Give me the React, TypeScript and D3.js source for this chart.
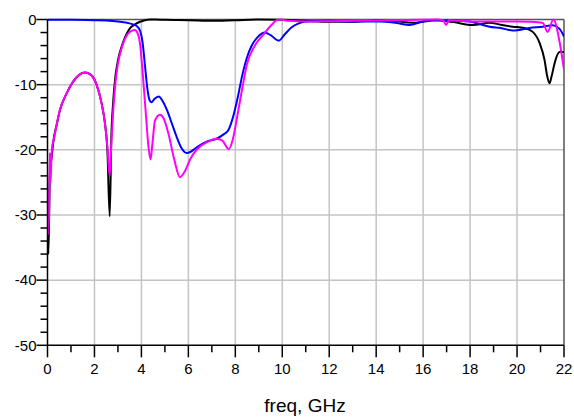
import React from "react";
import * as d3 from "d3";

const xTicks = [0, 2, 4, 6, 8, 10, 12, 14, 16, 18, 20, 22];
const yTicks = [0, -10, -20, -30, -40, -50];

const blackF = [0, 0.04, 0.1, 0.18, 0.25, 0.4, 0.53, 0.82, 1.1, 1.35, 1.6, 1.85, 2.09, 2.3, 2.45, 2.55, 2.65, 2.72, 2.8, 2.9, 3.0, 3.2, 3.37, 3.51, 3.7, 3.94, 4.15, 4.36, 4.6, 5, 6, 7, 8, 9, 10, 11, 12, 13, 14.15, 14.8, 15.57, 16.56, 17.3, 18.12, 18.83, 19.3, 19.82, 20.3, 20.67, 20.96, 21.17, 21.28, 21.38, 21.48, 21.6, 21.81, 22];
const blackV = [-30, -36, -24, -21, -18.7, -16, -13.9, -11.3, -9.5, -8.5, -8.15, -8.5, -10, -12.8, -16, -20, -30.2, -18, -12.5, -8.5, -6.3, -3.7, -2.2, -1.35, -0.8, -0.35, -0.1, 0, 0, -0.05, -0.1, -0.2, -0.1, 0, -0.05, -0.2, -0.35, -0.35, -0.1, -0.25, -0.5, -0.1, -0.4, -0.85, -0.5, -0.8, -1.1, -1.3, -1.9, -3.6, -6.2, -8.6, -9.8, -8.6, -6.7, -5.0, -5.0];

const magentaF = [0, 0.04, 0.08, 0.1, 0.13, 0.16, 0.2, 0.25, 0.4, 0.53, 0.82, 1.1, 1.35, 1.6, 1.85, 2.09, 2.3, 2.45, 2.55, 2.65, 2.72, 2.8, 2.9, 3.0, 3.2, 3.4, 3.6, 3.72, 3.85, 3.95, 4.05, 4.2, 4.3, 4.39, 4.47, 4.58, 4.79, 4.95, 5.15, 5.4, 5.64, 5.85, 6.1, 6.4, 6.8, 7.2, 7.45, 7.72, 7.9, 8.1, 8.3, 8.5, 8.8, 9.2, 9.5, 9.85, 10.3, 11, 12, 13, 14, 15, 15.8, 16.6, 16.85, 16.98, 17.1, 18, 19, 20, 20.5, 21.1, 21.3, 21.55, 21.8, 22];
const magentaV = [-26, -33, -27, -20.5, -25, -22, -19.5, -18.7, -16, -13.9, -11.3, -9.5, -8.5, -8.15, -8.5, -10, -12.8, -16, -19.5, -24, -19, -14, -9.5, -6.8, -3.9, -2.3, -1.7, -1.6, -2.2, -4, -8, -15, -19.5, -21.5, -19, -15.5, -14.6, -15.2, -17.5, -21.5, -24.2, -23.3, -21.3, -19.8, -18.8, -18.3, -18.6, -19.9, -18.3, -14.5, -10.5, -6.8, -4.2, -2.3, -1.0, 0, -0.2, -0.3, -0.25, -0.2, -0.15, -0.1, -0.05, 0, -0.1, -0.85, -0.1, -0.3, -0.3, -0.3, -0.35, -0.55, -1.9, 0, -3.2, -7.7];

const blueF = [0, 1, 2, 2.5, 3, 3.5, 3.8, 3.95, 4.05, 4.15, 4.25, 4.35, 4.43, 4.55, 4.74, 4.9, 5.1, 5.3, 5.5, 5.7, 5.92, 6.1, 6.4, 6.8, 7.2, 7.47, 7.7, 7.9, 8.1, 8.3, 8.5, 8.7, 8.95, 9.26, 9.5, 9.85, 10.1, 10.4, 10.7, 11, 12, 13, 14.15, 14.8, 15.43, 15.9, 16.28, 17.1, 17.98, 18.4, 18.83, 19.3, 19.82, 20.53, 21.1, 21.52, 21.8, 22];
const blueV = [-0.05, -0.05, -0.1, -0.15, -0.3, -0.6, -1.0, -1.8, -3.5, -7, -10.5, -12.4, -12.7, -12.2, -11.8, -12.5, -14, -16, -18, -19.7, -20.5, -20.3, -19.5, -18.7, -18.3, -17.7, -17, -15, -12, -8.5, -5.8, -4, -2.7, -2.0, -2.4, -3.25, -2.3, -1.2, -0.6, -0.3, -0.2, -0.3, -0.3, -0.5, -0.85, -0.4, -0.1, -0.15, -0.3, -0.7, -1.1, -1.3, -1.7, -1.3, -1.1, -0.9, -1.4, -2.6];

const series = [
  { name: "S-black", f: blackF, v: blackV, color: "#000000" },
  { name: "S-blue", f: blueF, v: blueV, color: "#0000ff" },
  { name: "S-magenta", f: magentaF, v: magentaV, color: "#ff00ff" },
];

export default function App() {
  const W = 574, H = 417;
  const x = d3.scaleLinear().domain([0, 22]).range([47.5, 564]);
  const y = d3.scaleLinear().domain([0, -50]).range([19.5, 345.3]);
  const line = d3
    .line<[number, number]>()
    .x((d) => x(d[0]))
    .y((d) => y(d[1]))
    .curve(d3.curveMonotoneX);
  const minorX = d3.range(1, 22, 2);
  const minorY = d3.range(0, -51, -2).filter((v) => v % 10 !== 0);
  const font = "'Liberation Sans', Arial, Helvetica, sans-serif";
  return (
    <svg
      width={W}
      height={H}
      style={{ position: "fixed", left: 0, top: 0, background: "#fff" }}
      fontFamily={font}
    >
      <defs>
        <clipPath id="plot">
          <rect x={x(0)} y={y(0) - 2} width={x(22) - x(0)} height={y(-50) - y(0) + 4} />
        </clipPath>
      </defs>
      {xTicks.slice(1, -1).map((t) => (
        <line key={"gx" + t} x1={x(t)} x2={x(t)} y1={y(0)} y2={y(-50)} stroke="#c4c4c4" strokeWidth={1.5} />
      ))}
      {yTicks.slice(1, -1).map((t) => (
        <line key={"gy" + t} x1={x(0)} x2={x(22)} y1={y(t)} y2={y(t)} stroke="#c4c4c4" strokeWidth={1.5} />
      ))}
      <line x1={x(0)} x2={x(22)} y1={y(0)} y2={y(0)} stroke="#555" strokeWidth={1.5} />
      <line x1={x(22)} x2={x(22)} y1={y(0)} y2={y(-50)} stroke="#555" strokeWidth={1.5} />
      <g clipPath="url(#plot)">
        {series.map((s) => (
          <path
            key={s.name}
            d={line(s.f.map((f, i) => [f, s.v[i]] as [number, number])) || ""}
            fill="none"
            stroke={s.color}
            strokeWidth={2}
            strokeLinejoin="round"
          />
        ))}
      </g>
      <line x1={x(0)} x2={x(0)} y1={y(0)} y2={y(-50)} stroke="#000" strokeWidth={1.5} />
      <line x1={x(0)} x2={x(22)} y1={y(-50)} y2={y(-50)} stroke="#000" strokeWidth={1.5} />
      {yTicks.map((t) => (
        <g key={"ty" + t}>
          <line x1={x(0) - 11} x2={x(0)} y1={y(t)} y2={y(t)} stroke="#000" strokeWidth={1.5} />
          <text x={x(0) - 11} y={y(t)} dy="0.35em" textAnchor="end" fontSize={15} fill="#000">
            {t}
          </text>
        </g>
      ))}
      {minorY.map((t) => (
        <line key={"my" + t} x1={x(0) - 7} x2={x(0)} y1={y(t)} y2={y(t)} stroke="#000" strokeWidth={1.5} />
      ))}
      {xTicks.map((t) => (
        <g key={"tx" + t}>
          <line x1={x(t)} x2={x(t)} y1={y(-50)} y2={y(-50) + 12} stroke="#000" strokeWidth={1.5} />
          <text x={x(t)} y={y(-50) + 23} dy="0.35em" textAnchor="middle" fontSize={15} fill="#000">
            {t}
          </text>
        </g>
      ))}
      {minorX.map((t) => (
        <line key={"mx" + t} x1={x(t)} x2={x(t)} y1={y(-50)} y2={y(-50) + 7} stroke="#000" strokeWidth={1.5} />
      ))}
      <text x={305} y={405} dy="0.35em" textAnchor="middle" fontSize={19} fill="#000">
        freq, GHz
      </text>
    </svg>
  );
}
